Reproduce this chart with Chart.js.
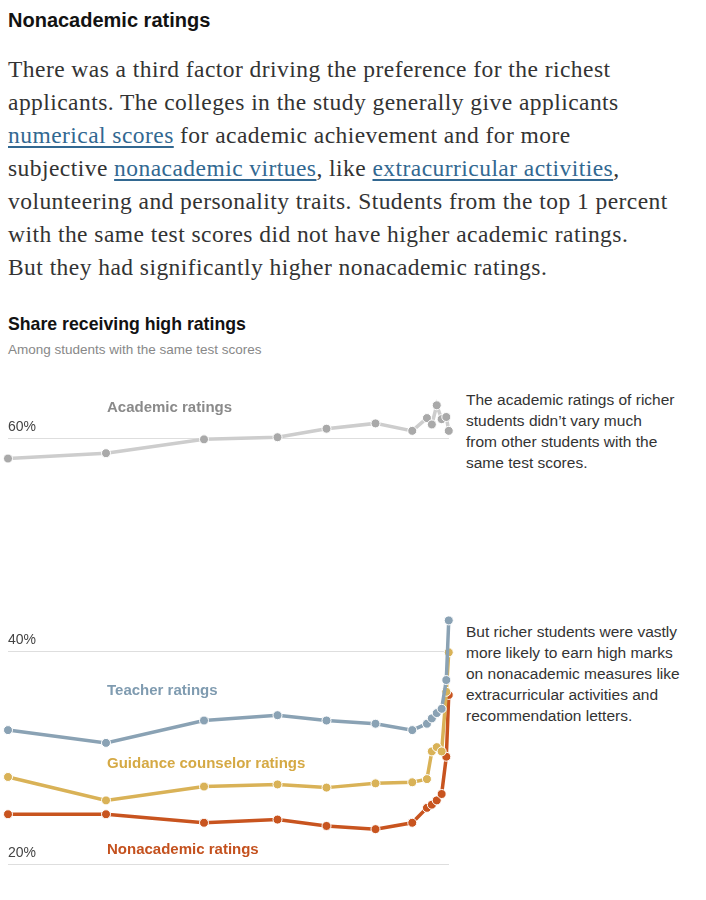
<!DOCTYPE html>
<html>
<head>
<meta charset="utf-8">
<script src="https://cdn.jsdelivr.net/npm/chart.js@4.4.1/dist/chart.umd.min.js"></script>
<style>
  html, body { margin: 0; padding: 0; background: #fff; }
  body { width: 706px; height: 900px; position: relative; overflow: hidden; font-family: "Liberation Sans", Arial, sans-serif; }
  .abs { position: absolute; white-space: nowrap; }
  #title { left: 8px; top: 9px; font: bold 20px "Liberation Sans", Arial, sans-serif; color: #121212; letter-spacing: 0px; }
  #body { left: 8px; top: 53px; font: 23.5px/33px "Liberation Serif", "Times New Roman", serif; color: #333; white-space: normal; width: 700px; letter-spacing: 0.45px; }
  #body a { color: #326891; text-decoration: underline; text-underline-offset: 3px; }
  #ctitle { left: 8px; top: 314px; font: bold 17.7px "Liberation Sans", Arial, sans-serif; color: #121212; }
  #csub { left: 8px; top: 342px; font: 13.5px "Liberation Sans", Arial, sans-serif; color: #888; }
  .slabel { font: bold 15px "Liberation Sans", Arial, sans-serif; }
  .note { font: 15.5px/21px "Liberation Sans", Arial, sans-serif; color: #333; white-space: normal; }
  #chartwrap { position: absolute; left: 0; top: 380px; width: 460px; height: 500px; }
</style>
</head>
<body>
<div id="title" class="abs">Nonacademic ratings</div>
<div id="body" class="abs">There was a third factor driving the preference for the richest<br>applicants. The colleges in the study generally give applicants<br><a>numerical scores</a> for academic achievement and for more<br>subjective <a>nonacademic virtues</a>, like <a>extracurricular activities</a>,<br>volunteering and personality traits. Students from the top 1 percent<br>with the same test scores did not have higher academic ratings.<br>But they had significantly higher nonacademic ratings.</div>
<div id="ctitle" class="abs">Share receiving high ratings</div>
<div id="csub" class="abs">Among students with the same test scores</div>

<div id="chartwrap"><canvas id="c" width="460" height="500"></canvas></div>

<div class="abs slabel" style="left:107px; top:398px; color:#8a8a8a;">Academic ratings</div>
<div class="abs slabel" style="left:107px; top:681px; color:#7f9bb0;">Teacher ratings</div>
<div class="abs slabel" style="left:107px; top:754px; color:#d5a944;">Guidance counselor ratings</div>
<div class="abs slabel" style="left:107px; top:840px; color:#c4511e;">Nonacademic ratings</div>

<div class="abs note" style="left:466px; top:389px; width:240px;">The academic ratings of richer<br>students didn’t vary much<br>from other students with the<br>same test scores.</div>
<div class="abs note" style="left:466px; top:621px; width:240px;">But richer students were vastly<br>more likely to earn high marks<br>on nonacademic measures like<br>extracurricular activities and<br>recommendation letters.</div>

<script>
// Parent income percentile (bin midpoints)
const percentiles = [10, 30, 50, 65, 75, 85, 92.5, 95.5, 96.5, 97.5, 98.5, 99.45, 99.95];
// Share receiving high ratings (%)
const academic   = [58.1, 58.6, 59.9, 60.1, 60.9, 61.4, 60.7, 61.9, 61.3, 63.1, 61.8, 62.0, 60.7];
const teacher    = [32.6, 31.4, 33.5, 34.0, 33.5, 33.2, 32.6, 33.2, 33.7, 34.2, 34.6, 37.3, 42.9];
const counselor  = [28.2, 26.0, 27.3, 27.5, 27.2, 27.6, 27.7, 28.0, 30.6, 31.0, 30.6, 36.2, 39.9];
const nonacademic= [24.7, 24.7, 23.9, 24.2, 23.6, 23.3, 23.9, 25.3, 25.6, 26.0, 26.6, 30.1, 35.9];
const yTicks = [20, 40, 60];

function pts(arr) { return percentiles.map((p, i) => ({ x: p, y: arr[i] })); }
function ds(label, arr, line, point) {
  return {
    label, data: pts(arr), borderColor: line, backgroundColor: point,
    pointBackgroundColor: point, pointBorderColor: '#fff', pointBorderWidth: 1,
    pointRadius: 4.5, borderWidth: 3.5, tension: 0, clip: false
  };
}

new Chart(document.getElementById('c'), {
  type: 'line',
  data: {
    datasets: [
      ds('Academic ratings', academic, '#cdcdcd', '#a9a9a9'),
      ds('Teacher ratings', teacher, '#8aa2b4', '#8aa2b4'),
      ds('Guidance counselor ratings', counselor, '#d9b257', '#d9b257'),
      ds('Nonacademic ratings', nonacademic, '#c8541f', '#c8541f')
    ]
  },
  options: {
    responsive: false,
    animation: false,
    layout: { padding: { left: 8, right: 11, top: 15.7, bottom: 15.7 } },
    plugins: { legend: { display: false }, tooltip: { enabled: false } },
    scales: {
      x: { type: 'linear', min: 10, max: 100, display: false },
      y: {
        type: 'linear', min: 20, max: 64,
        afterBuildTicks: (s) => { s.ticks = yTicks.map(v => ({ value: v })); },
        border: { display: false },
        grid: { color: '#dedede', lineWidth: 1, drawTicks: false },
        ticks: {
          mirror: true, padding: 0, labelOffset: -11,
          color: '#444', font: { family: 'Liberation Sans', size: 14 },
          callback: (v) => v + '%'
        }
      }
    }
  }
});
</script>
</body>
</html>
